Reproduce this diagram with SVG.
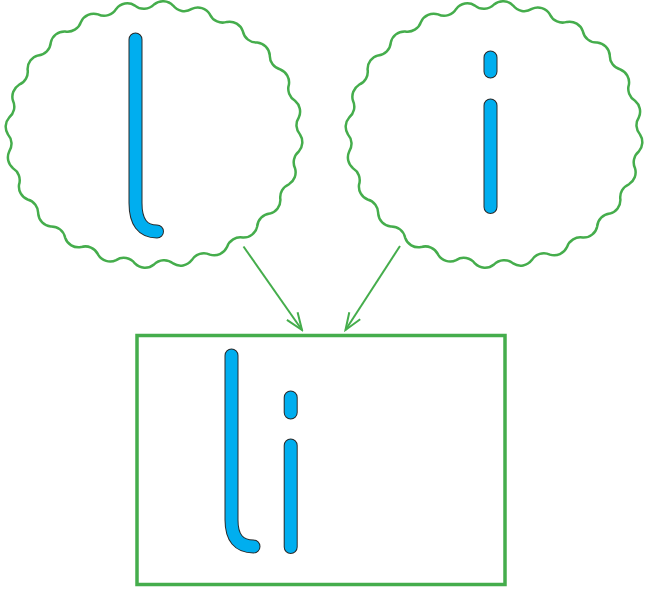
<svg xmlns="http://www.w3.org/2000/svg" xmlns:xlink="http://www.w3.org/1999/xlink" width="646" height="591" viewBox="0 0 646 591">
<style>
.wave{fill:none;stroke:#45ad4c;stroke-width:2.5}
.box{fill:#fff;stroke:#45ad4c;stroke-width:3.5}
.edge{fill:none;stroke:#45ad4c;stroke-width:2}
.ol{fill:none;stroke:#2a2a2a;stroke-width:14;stroke-linecap:round}
.fl{fill:none;stroke:#00aeef;stroke-width:12;stroke-linecap:round}
</style>
<defs>
<path id="wv" d="M146,0 A14,14 0 0 1 144.8,17 A14,14 0 0 0 141,33.7 A14,14 0 0 1 134.9,49.8 A14,14 0 0 0 126.4,65 A14,14 0 0 1 115.8,79.1 A14,14 0 0 0 103.2,91.9 A14,14 0 0 1 88.9,103.1 A14,14 0 0 0 73,112.6 A14,14 0 0 1 55.9,120.1 A14,14 0 0 0 37.8,125.6 A14,14 0 0 1 19.1,128.9 A14,14 0 0 0 0,130 A14,14 0 0 1 -19.1,128.9 A14,14 0 0 0 -37.8,125.6 A14,14 0 0 1 -55.9,120.1 A14,14 0 0 0 -73,112.6 A14,14 0 0 1 -88.9,103.1 A14,14 0 0 0 -103.2,91.9 A14,14 0 0 1 -115.8,79.1 A14,14 0 0 0 -126.4,65 A14,14 0 0 1 -134.9,49.8 A14,14 0 0 0 -141,33.7 A14,14 0 0 1 -144.8,17 A14,14 0 0 0 -146,0 A14,14 0 0 1 -144.8,-17 A14,14 0 0 0 -141,-33.7 A14,14 0 0 1 -134.9,-49.8 A14,14 0 0 0 -126.4,-65 A14,14 0 0 1 -115.8,-79.1 A14,14 0 0 0 -103.2,-91.9 A14,14 0 0 1 -88.9,-103.1 A14,14 0 0 0 -73,-112.6 A14,14 0 0 1 -55.9,-120.1 A14,14 0 0 0 -37.8,-125.6 A14,14 0 0 1 -19.1,-128.9 A14,14 0 0 0 0,-130 A14,14 0 0 1 19.1,-128.9 A14,14 0 0 0 37.8,-125.6 A14,14 0 0 1 55.9,-120.1 A14,14 0 0 0 73,-112.6 A14,14 0 0 1 88.9,-103.1 A14,14 0 0 0 103.2,-91.9 A14,14 0 0 1 115.8,-79.1 A14,14 0 0 0 126.4,-65 A14,14 0 0 1 134.9,-49.8 A14,14 0 0 0 141,-33.7 A14,14 0 0 1 144.8,-17 A14,14 0 0 0 146,0 Z"/>
<marker id="arr" viewBox="0 0 20 16" markerWidth="20" markerHeight="16" refX="18" refY="8" orient="auto" markerUnits="userSpaceOnUse">
<path d="M1,1.5 L18,8 L1,14.5" fill="none" stroke="#45ad4c" stroke-width="2"/>
</marker>
</defs>
<g id="connectors">
<line class="edge" x1="243.5" y1="246.5" x2="302" y2="330" marker-end="url(#arr)"/>
<line class="edge" x1="400" y1="246" x2="345.5" y2="330" marker-end="url(#arr)"/>
</g>
<g id="node-l">
<use xlink:href="#wv" href="#wv" class="wave" transform="translate(154,134.5)"/>
<path class="ol" d="M135.5,39.5 V203 Q135.5,231.5 157,231.5"/>
<path class="fl" d="M135.5,39.5 V203 Q135.5,231.5 157,231.5"/>
</g>
<g id="node-i">
<use xlink:href="#wv" href="#wv" class="wave" transform="translate(494,134.5)"/>
<path class="ol" d="M490.5,57.5 V71.5 M490.5,105.5 V207"/>
<path class="fl" d="M490.5,57.5 V71.5 M490.5,105.5 V207"/>
</g>
<g id="node-li">
<rect class="box" x="137" y="335.5" width="368" height="249"/>
<path class="ol" d="M231.5,355.5 V520 Q231.5,546.5 253.5,546.5 M290.7,397.5 V412.5 M290.7,445.5 V547"/>
<path class="fl" d="M231.5,355.5 V520 Q231.5,546.5 253.5,546.5 M290.7,397.5 V412.5 M290.7,445.5 V547"/>
</g>
</svg>
